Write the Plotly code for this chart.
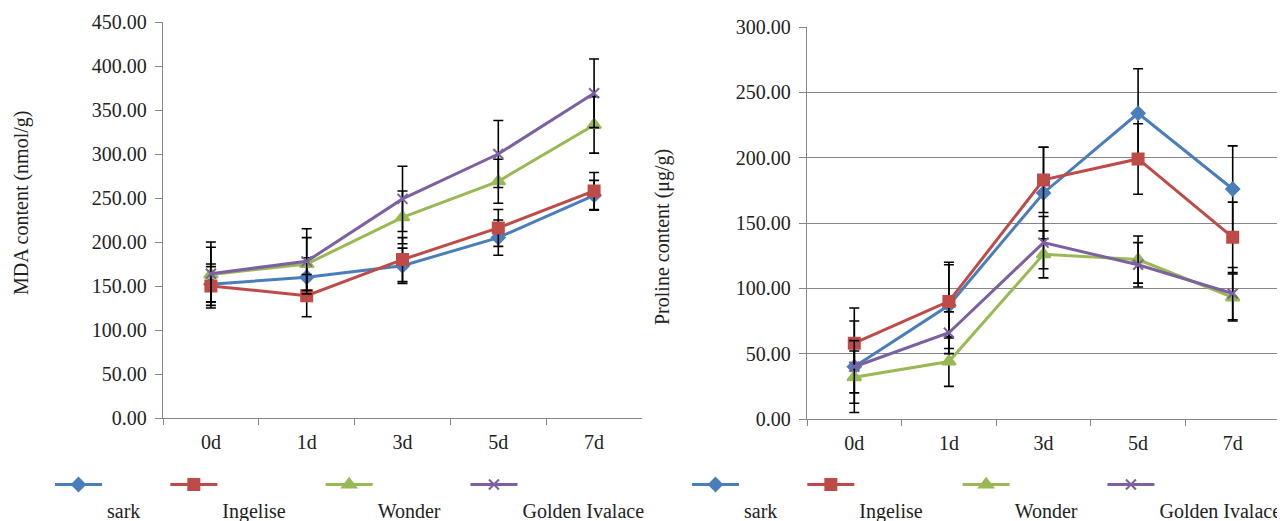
import plotly.graph_objects as go

# ---------------- data ----------------
days = ["0d", "1d", "3d", "5d", "7d"]
varieties = ["sark", "Ingelise", "Wonder", "Golden Ivalace"]

mda_sark = [152, 160, 173, 205, 253]
mda_ingelise = [150, 139, 180, 216, 258]
mda_wonder = [163, 175, 228, 269, 333]
mda_golden = [164, 178, 249, 300, 369]

mda_err_sark = [20, 22, 20, 20, 17]
mda_err_ingelise = [25, 24, 25, 21, 21]
mda_err_wonder = [31, 30, 30, 25, 32]
mda_err_golden = [36, 37, 37, 38, 39]

pro_sark = [40, 87, 173, 234, 176]
pro_ingelise = [58, 90, 183, 199, 139]
pro_wonder = [32, 44, 126, 122, 93]
pro_golden = [40, 66, 135, 118, 96]

pro_err_sark = [35, 33, 35, 34, 33]
pro_err_ingelise = [27, 28, 25, 27, 27]
pro_err_wonder = [20, 19, 18, 18, 18]
pro_err_golden = [20, 16, 20, 17, 20]

mda_tick_vals = [0, 50, 100, 150, 200, 250, 300, 350, 400, 450]
pro_tick_vals = [0, 50, 100, 150, 200, 250, 300]

# ---------------- styles ----------------
FONT = "Liberation Serif"
TXT = "#222222"
AX = "#868686"
colors = ["#4A7EBB", "#BE4B48", "#98B954", "#7D60A0"]
markers = [
    dict(symbol="diamond", size=10),
    dict(symbol="square", size=11),
    dict(symbol="triangle-up", size=12),
    dict(symbol="x-thin", size=10),
]
NB = "\u00a0"
trail = [4, 6, 4, 0]

mda = [mda_sark, mda_ingelise, mda_wonder, mda_golden]
mda_err = [mda_err_sark, mda_err_ingelise, mda_err_wonder, mda_err_golden]
pro = [pro_sark, pro_ingelise, pro_wonder, pro_golden]
pro_err = [pro_err_sark, pro_err_ingelise, pro_err_wonder, pro_err_golden]

fig = go.Figure()


def add_series(vals, errs, xa, ya, leg):
    for i, name in enumerate(varieties):
        m = dict(markers[i])
        m["color"] = colors[i]
        m["line"] = dict(color=colors[i], width=2)
        fig.add_trace(go.Scatter(
            x=days, y=vals[i],
            name=NB + "<br>" + name + NB * trail[i],
            mode="lines+markers",
            line=dict(color=colors[i], width=3),
            marker=m,
            error_y=dict(type="data", array=errs[i], color="black",
                         thickness=1.6, width=5),
            xaxis=xa, yaxis=ya, legend=leg,
        ))


add_series(mda, mda_err, "x", "y", "legend")
add_series(pro, pro_err, "x2", "y2", "legend2")

# the page body adds an 8px offset; size the figure to the visible window
OFF = 8
W, H = 1285 - OFF, 521 - OFF


def px_x(p):
    return (p - OFF) / W


def px_y(p):
    return 1 - (p - OFF) / H


xcommon = dict(type="category", range=[-0.5, 4.5], showline=True,
               linecolor=AX, linewidth=1.3, ticks="outside",
               tickson="boundaries", ticklen=6, tickcolor=AX, tickwidth=1.3,
               showgrid=False, zeroline=False, automargin=False,
               tickfont=dict(family=FONT, size=20, color=TXT),
               ticklabelstandoff=6)
ycommon = dict(showline=True, linecolor=AX, linewidth=1.3, ticks="outside",
               ticklen=7, tickcolor=AX, tickwidth=1.3, zeroline=False,
               tickformat=".2f", automargin=False,
               tickfont=dict(family=FONT, size=20, color=TXT),
               ticklabelstandoff=4)

legcommon = dict(orientation="h", xanchor="left", yanchor="top",
                 font=dict(family=FONT, size=20, color=TXT),
                 itemwidth=47, valign="top", bgcolor="rgba(0,0,0,0)",
                 traceorder="normal", itemclick=False, itemdoubleclick=False)

fig.update_layout(
    width=W, height=H,
    margin=dict(l=0, r=0, t=0, b=0, autoexpand=False),
    paper_bgcolor="white", plot_bgcolor="white",
    showlegend=True,
    font=dict(family=FONT, color=TXT),
    xaxis=dict(domain=[px_x(163), px_x(642)], anchor="y", **xcommon),
    yaxis=dict(domain=[px_y(418), px_y(22)], anchor="x", range=[0, 450],
               tickvals=mda_tick_vals, showgrid=False, **ycommon),
    xaxis2=dict(domain=[px_x(807), min(1.0, px_x(1280))], anchor="y2", **xcommon),
    yaxis2=dict(domain=[px_y(419), px_y(27)], anchor="x2", range=[0, 300],
                tickvals=pro_tick_vals, showgrid=True, gridcolor=AX,
                gridwidth=1.3, **ycommon),
    legend=dict(x=px_x(50), y=px_y(465), **legcommon),
    legend2=dict(x=px_x(687), y=px_y(465), **legcommon),
    annotations=[
        dict(text="MDA content (nmol/g)", x=px_x(22), y=px_y(203),
             xref="paper", yref="paper", xanchor="center", yanchor="middle",
             textangle=-90, showarrow=False,
             font=dict(family=FONT, size=20, color=TXT)),
        dict(text="Proline content (\u03bcg/g)", x=px_x(662), y=px_y(237),
             xref="paper", yref="paper", xanchor="center", yanchor="middle",
             textangle=-90, showarrow=False,
             font=dict(family=FONT, size=20, color=TXT)),
    ],
)

fig.write_html("out.html")
